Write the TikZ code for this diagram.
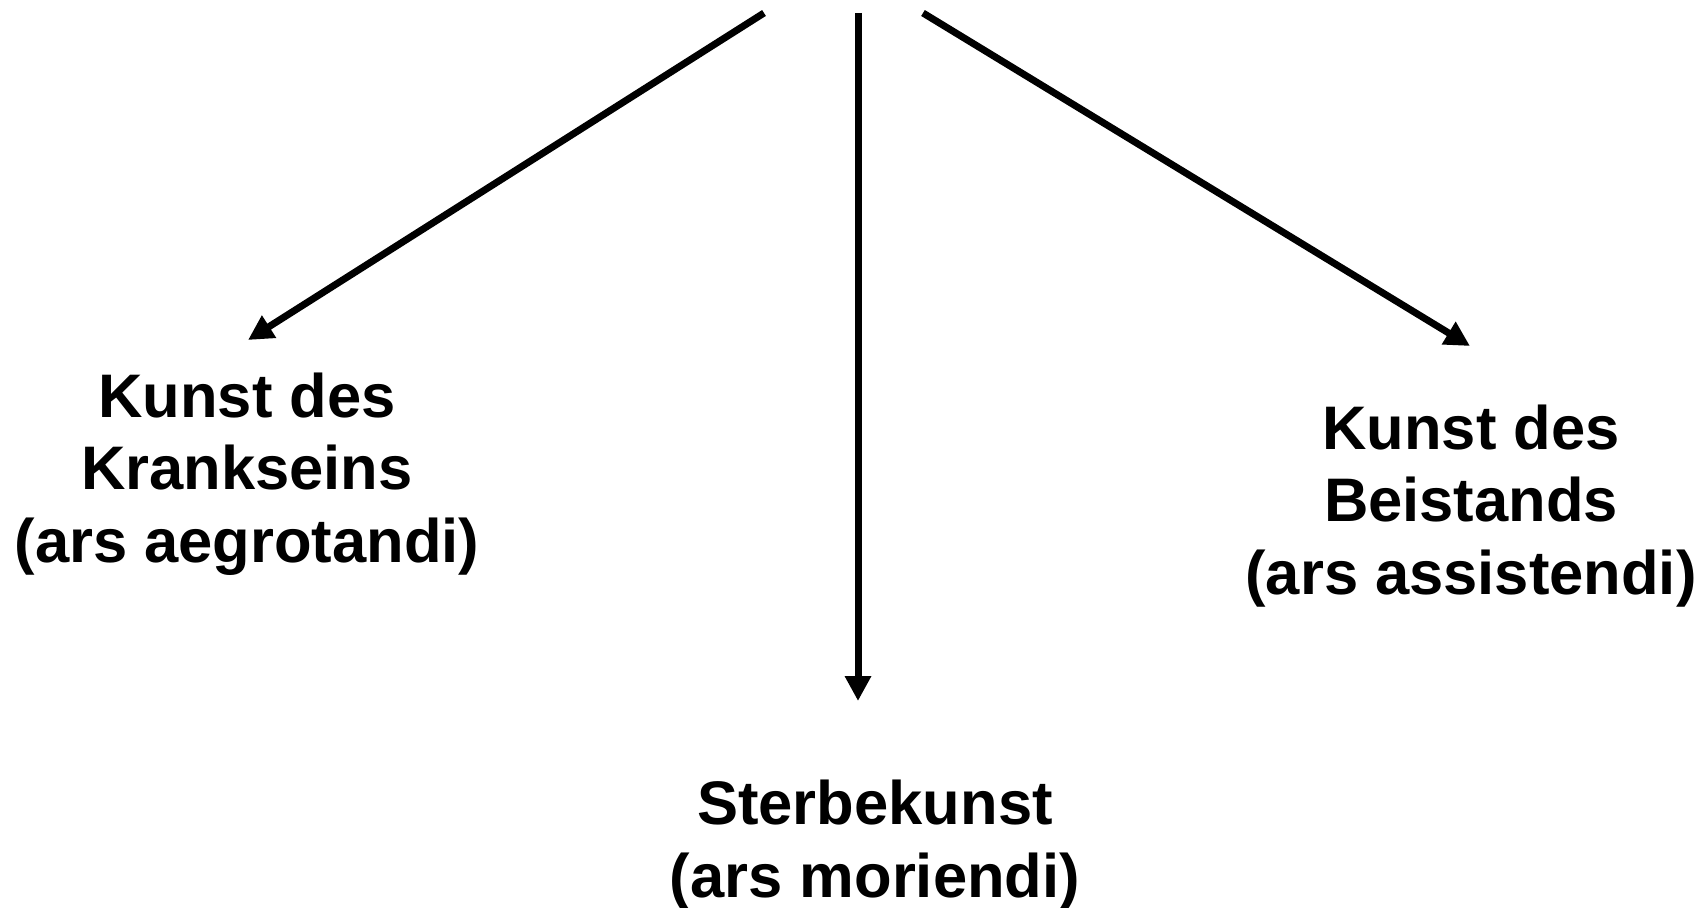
\documentclass[tikz,border=0pt]{standalone}
\usepackage{fontspec}
\setmainfont{Liberation Sans}
\usetikzlibrary{arrows.meta}
\tikzset{
  label/.style={align=center, anchor=base, inner sep=0pt, font=\bfseries\fontsize{61.5}{72.5}\selectfont},
  conn/.style={line width=7pt, -{Triangle[length=25pt,width=25pt]}}
}
\begin{document}
\begin{tikzpicture}[x=1pt,y=-1pt]
\useasboundingbox (0,0) rectangle (1704,907);
\node[label] (krank) at (247,562) {Kunst des\\Krankseins\\(ars aegrotandi)};
\node[label] (beist) at (1471,594) {Kunst des\\Beistands\\(ars assistendi)};
\node[label] (sterb) at (875,897) {Sterbekunst\\(ars moriendi)};
\coordinate (s1) at (764,13);
\coordinate (t1) at (248,340);
\coordinate (s2) at (858,13);
\coordinate (t2) at (858,701);
\coordinate (s3) at (923,13);
\coordinate (t3) at (1470,346);
\draw[conn] (s1) -- (t1);
\draw[conn] (s2) -- (t2);
\draw[conn] (s3) -- (t3);
\end{tikzpicture}
\end{document}
